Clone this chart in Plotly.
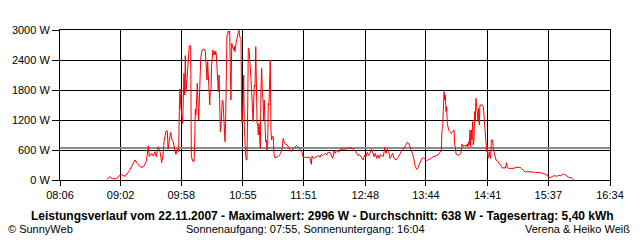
import plotly.graph_objects as go

# Time in minutes since midnight, power in W
time_min = [
    529.4, 531.9, 534.3, 538.0, 542.3, 546.0, 550.4, 555.3, 557.8, 560.8, 563.3, 565.7,
    567.6, 568.5, 570.7, 572.2, 573.7, 575.0, 576.8, 578.6, 579.9, 581.1, 582.3, 583.9,
    585.1, 585.8, 587.0, 588.2, 589.4, 590.6, 591.9, 593.1, 594.3, 595.6, 596.2, 596.8,
    597.5, 598.0, 599.3, 600.5, 601.2, 601.7, 602.4, 603.6, 604.2, 604.9, 605.4, 606.7,
    607.3, 608.6, 609.8, 610.4, 611.0, 611.6, 612.8, 614.1, 614.7, 615.3, 616.0, 617.2,
    619.0, 620.2, 621.1, 621.8, 622.4, 623.0, 623.6, 624.3, 624.8, 625.5, 626.1, 626.7,
    627.3, 628.0, 628.5, 629.2, 629.8, 630.4, 631.0, 631.7, 632.2, 632.9, 633.5, 634.1,
    634.7, 635.4, 635.9, 636.6, 637.2, 637.8, 638.4, 639.0, 639.6, 640.2, 640.9, 641.4,
    642.1, 642.7, 643.3, 643.9, 644.6, 645.1, 645.8, 646.4, 647.0, 647.6, 648.3, 648.8,
    649.5, 650.1, 650.7, 651.3, 652.0, 652.5, 653.2, 653.8, 654.4, 655.0, 655.7, 656.2,
    656.9, 657.5, 658.1, 658.7, 659.4, 659.9, 660.6, 661.2, 661.8, 662.4, 663.1, 663.6,
    664.3, 664.9, 665.5, 666.1, 666.8, 667.3, 668.0, 668.6, 669.2, 669.8, 670.5, 671.0,
    671.7, 672.3, 672.9, 673.5, 674.1, 674.7, 675.4, 676.0, 676.6, 677.2, 677.8, 678.4,
    679.0, 679.7, 680.2, 680.9, 681.5, 682.1, 683.0, 683.7, 684.3, 686.2, 688.0, 689.9,
    691.1, 692.2, 693.5, 695.9, 697.2, 699.6, 700.9, 702.8, 704.6, 706.5, 707.7, 709.5,
    710.7, 713.9, 716.9, 718.1, 718.8, 720.0, 721.8, 723.1, 724.9, 726.1, 727.3, 728.6,
    729.8, 731.0, 732.3, 733.5, 735.4, 736.6, 737.9, 739.1, 740.3, 741.6, 743.4, 745.3,
    747.1, 749.0, 750.8, 752.0, 753.9, 755.7, 756.9, 758.2, 760.0, 761.2, 762.4, 764.9,
    766.1, 767.4, 768.6, 769.8, 771.1, 772.3, 773.5, 774.8, 776.0, 777.2, 778.5, 779.7,
    780.9, 782.2, 783.4, 784.6, 785.9, 787.1, 788.3, 789.6, 790.8, 792.0, 793.3, 794.5,
    796.3, 798.2, 799.4, 801.2, 803.1, 804.9, 806.8, 808.1, 809.3, 810.5, 811.8, 813.0,
    814.2, 815.5, 816.7, 817.9, 820.4, 821.6, 824.7, 826.5, 827.7, 829.6, 831.4, 833.3,
    835.1, 836.3, 837.6, 838.2, 838.8, 839.5, 840.0, 840.7, 841.3, 841.9, 842.5, 843.2,
    843.7, 845.0, 846.2, 847.4, 848.7, 849.9, 850.6, 851.1, 851.8, 853.0, 854.8, 856.1,
    856.7, 857.3, 858.5, 859.8, 861.0, 862.2, 862.8, 863.5, 864.0, 864.7, 865.3, 865.9,
    866.5, 867.2, 867.7, 868.4, 869.0, 869.6, 870.2, 870.9, 871.4, 872.1, 872.7, 873.3,
    873.9, 875.8, 877.0, 877.6, 878.3, 878.8, 879.5, 880.1, 880.7, 881.3, 882.0, 882.5,
    883.2, 883.8, 884.4, 885.7, 886.2, 887.5, 888.7, 889.9, 891.2, 892.4, 893.6, 894.9,
    896.1, 897.3, 898.6, 899.1, 900.4, 905.3, 907.2, 910.9, 912.1, 913.9, 915.8, 917.6,
    921.3, 923.2, 925.0, 926.9, 929.3, 931.8, 934.2, 936.1, 937.4, 939.2, 941.1, 942.9,
    944.8, 946.6, 948.5, 950.3, 952.2, 954.0, 955.9, 957.7, 959.5, 960.1,
]
power_w = [
    10, 67, 27, 27, 113, 73, 193, 400, 320, 253, 267, 367,
    687, 467, 533, 480, 567, 467, 667, 547, 347, 500, 800, 980,
    980, 620, 800, 953, 800, 767, 620, 513, 620, 567, 1367, 1820,
    1500, 1367, 1133, 2133, 1700, 2487, 1767, 2100, 2353, 2467, 2687, 2687,
    467, 380, 367, 767, 1420, 1300, 1933, 1200, 1533, 1967, 2447, 2600,
    2620, 2580, 2133, 2000, 2367, 2000, 1500, 1500, 1767, 1767, 2313, 2580,
    2600, 2500, 2567, 2500, 2580, 2500, 2300, 2100, 1767, 2100, 1733, 967,
    1067, 1300, 1600, 1567, 1233, 967, 767, 1167, 1900, 2900, 2900, 2980,
    2953, 2980, 2233, 1600, 2733, 2687, 2650, 2600, 2667, 2567, 2700, 2800,
    2833, 2900, 2953, 2996, 2867, 2833, 2833, 1167, 1133, 1500, 2100, 1100,
    467, 467, 400, 400, 1500, 2633, 2633, 2467, 2300, 2033, 1733, 1433,
    1167, 1567, 1900, 1867, 2667, 1467, 1133, 1100, 900, 1133, 800, 633,
    1900, 2233, 1733, 1600, 1200, 1600, 1100, 767, 800, 600, 700, 1533,
    1500, 2033, 2400, 967, 800, 867, 867, 500, 453, 453, 480, 533,
    633, 833, 733, 700, 653, 567, 620, 653, 687, 653, 600, 553,
    453, 453, 453, 313, 480, 433, 447, 467, 487, 453, 513, 487,
    513, 527, 500, 553, 553, 487, 433, 580, 533, 600, 553, 620,
    620, 633, 620, 647, 647, 633, 620, 600, 533, 487, 513, 433,
    400, 500, 467, 553, 487, 533, 620, 567, 467, 533, 433, 500,
    433, 513, 487, 467, 647, 533, 620, 567, 433, 487, 533, 433,
    400, 447, 500, 567, 620, 700, 753, 733, 667, 567, 513, 400,
    267, 213, 247, 313, 433, 447, 380, 420, 413, 453, 467, 480,
    500, 533, 567, 600, 1000, 1033, 1367, 1767, 1600, 1700, 1367, 1467,
    1133, 1000, 967, 933, 967, 1000, 700, 667, 520, 500, 500, 533,
    600, 720, 667, 700, 667, 720, 667, 767, 700, 1000, 667, 1000,
    800, 1167, 700, 800, 1367, 1200, 1633, 1467, 1400, 1167, 1433, 1100,
    1500, 1500, 1467, 1267, 1033, 1000, 733, 567, 667, 453, 453, 567,
    467, 433, 800, 800, 633, 467, 400, 387, 347, 320, 267, 233,
    253, 233, 347, 253, 233, 233, 253, 253, 233, 187, 160, 167,
    167, 160, 147, 153, 147, 133, 120, 100, 53, 53, 73, 87,
    73, 93, 87, 113, 113, 80, 53, 47, 27, 13,
]

average_w = 638
x_tick_labels = ["08:06", "09:02", "09:58", "10:55", "11:51", "12:48", "13:44", "14:41", "15:37", "16:34"]
y_tick_values = [0, 600, 1200, 1800, 2400, 3000]
y_tick_labels = ["0 W", "600 W", "1200 W", "1800 W", "2400 W", "3000 W"]

title_text = "Leistungsverlauf vom 22.11.2007 - Maximalwert: 2996 W - Durchschnitt: 638 W - Tagesertrag: 5,40 kWh"
left_text = "© SunnyWeb"
mid_text = "Sonnenaufgang: 07:55, Sonnenuntergang: 16:04"
right_text = "Verena & Heiko Weiß"


def to_min(s):
    h, m = s.split(":")
    return int(h) * 60 + int(m)


x_tick_vals = [to_min(s) for s in x_tick_labels]
x_min, x_max = x_tick_vals[0], x_tick_vals[-1]

FONT = "Liberation Sans, Arial, sans-serif"

fig = go.Figure()
fig.add_trace(go.Scatter(
    x=[x_min, x_max], y=[average_w, average_w], mode="lines",
    line=dict(color="#8c8c8c", width=2), hoverinfo="skip", showlegend=False,
))
fig.add_trace(go.Scatter(
    x=time_min, y=power_w, mode="lines",
    line=dict(color="#ff0000", width=1), showlegend=False,
))

fig.update_layout(
    width=640, height=240,
    margin=dict(l=60, r=30, t=30, b=60),
    paper_bgcolor="white", plot_bgcolor="white",
    font=dict(family=FONT, size=11, color="black"),
    showlegend=False,
)
fig.update_xaxes(
    range=[x_min, x_max], tickvals=x_tick_vals, ticktext=x_tick_labels,
    showgrid=True, gridcolor="black", gridwidth=1,
    showline=True, linecolor="black", linewidth=1, mirror=True,
    ticks="outside", ticklen=5, tickcolor="black", zeroline=False,
    tickfont=dict(family=FONT, size=11),
)
fig.update_yaxes(
    range=[0, 3000], tickvals=y_tick_values, ticktext=y_tick_labels,
    showgrid=True, gridcolor="black", gridwidth=1,
    showline=True, linecolor="black", linewidth=1, mirror=True,
    ticks="outside", ticklen=7, tickcolor="black", zeroline=False,
    tickfont=dict(family=FONT, size=11),
)

fig.add_annotation(text="<b>" + title_text + "</b>", xref="paper", yref="paper",
                   x=0.4764, y=-0.24, xanchor="center", yanchor="middle",
                   showarrow=False, font=dict(family=FONT, size=12, color="black"))
fig.add_annotation(text=left_text, xref="paper", yref="paper",
                   x=-0.0982, y=-0.3267, xanchor="left", yanchor="middle",
                   showarrow=False, font=dict(family=FONT, size=11, color="black"))
fig.add_annotation(text=mid_text, xref="paper", yref="paper",
                   x=0.4455, y=-0.3267, xanchor="center", yanchor="middle",
                   showarrow=False, font=dict(family=FONT, size=11, color="black"))
fig.add_annotation(text=right_text, xref="paper", yref="paper",
                   x=1.04, y=-0.3267, xanchor="right", yanchor="middle",
                   showarrow=False, font=dict(family=FONT, size=11, color="black"))

fig.write_html("out.html")
